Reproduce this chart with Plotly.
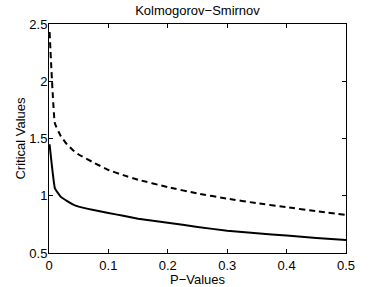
import plotly.graph_objects as go

p_values = [0.001, 0.01, 0.02, 0.03, 0.04, 0.05, 0.075, 0.1, 0.125, 0.15, 0.2, 0.25, 0.3, 0.35, 0.4, 0.45, 0.5]
ks_two_sided = [2.43, 1.63, 1.52, 1.45, 1.40, 1.36, 1.29, 1.225, 1.18, 1.14, 1.075, 1.02, 0.975, 0.935, 0.90, 0.865, 0.832]
ks_other = [1.45, 1.065, 0.99, 0.955, 0.925, 0.905, 0.875, 0.85, 0.825, 0.80, 0.765, 0.727, 0.695, 0.672, 0.652, 0.632, 0.614]

x_ticks = [0, 0.1, 0.2, 0.3, 0.4, 0.5]
y_ticks = [0.5, 1, 1.5, 2, 2.5]

font = "Liberation Sans, Arial, Helvetica, sans-serif"

fig = go.Figure()
fig.add_trace(go.Scatter(x=p_values, y=ks_two_sided, mode="lines", line_shape="spline",
                         line=dict(color="black", width=2, dash="6px,4px", smoothing=0.3)))
fig.add_trace(go.Scatter(x=p_values, y=ks_other, mode="lines", line_shape="spline",
                         line=dict(color="black", width=2, smoothing=0.3)))

axis_common = dict(showgrid=False, zeroline=False, showline=True, linecolor="black",
                   linewidth=1, mirror="allticks", ticks="inside", ticklen=4,
                   tickcolor="black", automargin=False,
                   tickfont=dict(size=13, color="black", family=font))

fig.update_layout(
    width=382, height=287,
    margin=dict(l=49, r=36, t=24, b=34),
    paper_bgcolor="white", plot_bgcolor="white",
    showlegend=False,
    title=dict(text="Kolmogorov−Smirnov", x=0.517, xanchor="center", y=0.962, yanchor="middle",
               font=dict(size=13, color="black", family=font)),
    xaxis=dict(range=[0, 0.5], tickvals=x_ticks, ticktext=["0", "0.1", "0.2", "0.3", "0.4", "0.5"],
               title=dict(text="P−Values", standoff=0, font=dict(size=13, color="black", family=font)),
               **axis_common),
    yaxis=dict(range=[0.5, 2.5], tickvals=y_ticks, ticktext=["0.5", "1", "1.5", "2", "2.5"],
               title=dict(text="Critical Values", standoff=0, font=dict(size=13, color="black", family=font)),
               **axis_common),
)

try:
    fig.update_yaxes(ticklabelstandoff=-2)
except Exception:
    pass

fig.write_html("out.html", config={"displayModeBar": False},
               post_script="document.body.style.margin='0px';")
